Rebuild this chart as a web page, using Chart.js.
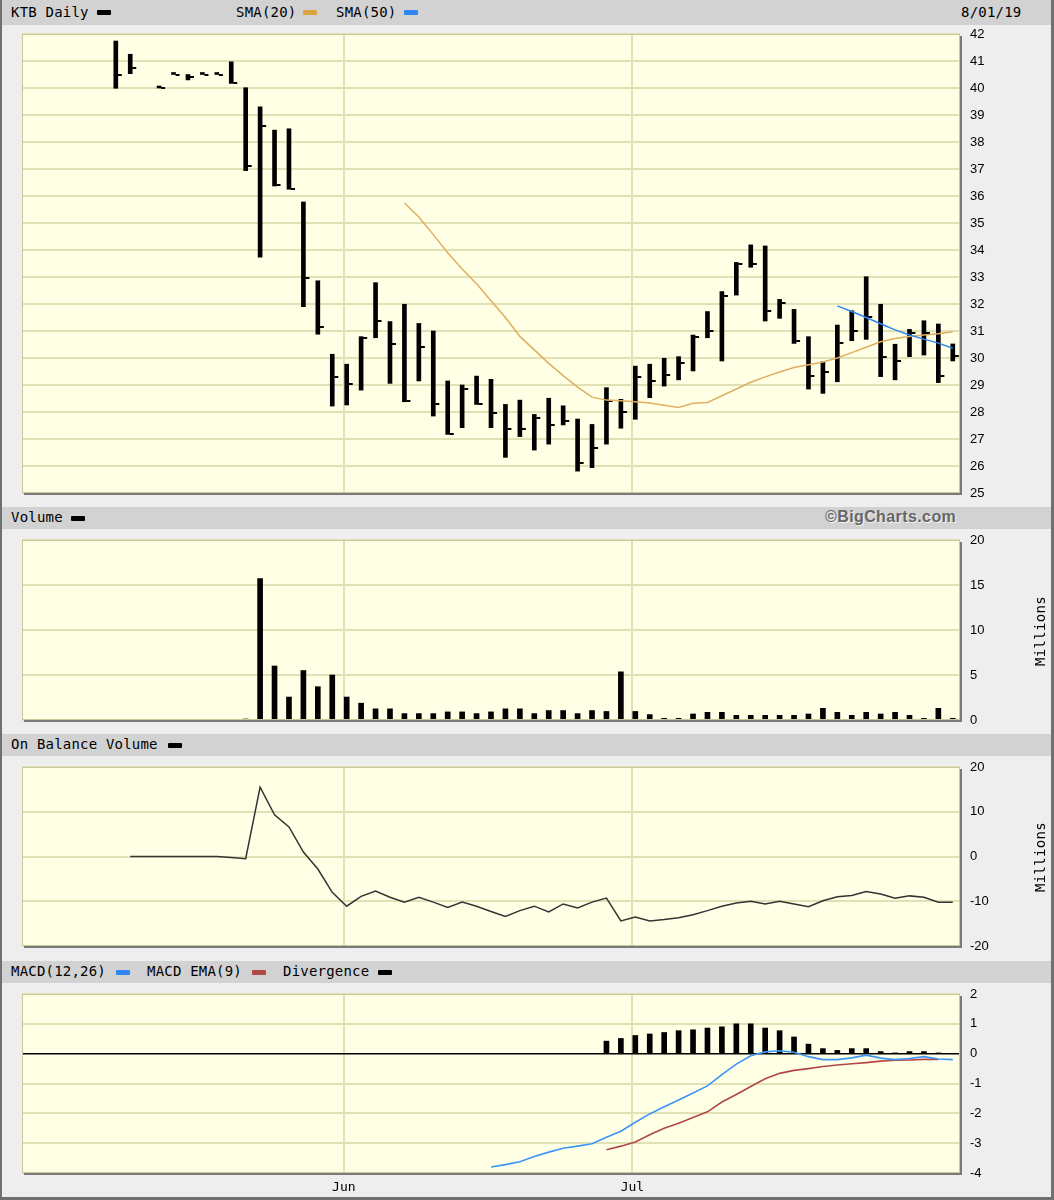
<!DOCTYPE html>
<html><head><meta charset="utf-8">
<script src="https://cdn.jsdelivr.net/npm/chart.js@4.4.1/dist/chart.umd.min.js"></script>
<style>
html,body{margin:0;padding:0;background:#fff}
#page{position:relative;width:1054px;height:1200px;background:#EEEEEE;overflow:hidden;font-family:'DejaVu Sans Mono',monospace}
canvas{position:absolute;left:0}
.hdr{position:absolute;left:2px;width:1050px;background:#D2D2D2;}
.t{position:absolute;font-size:14px;color:#000;white-space:nowrap;letter-spacing:0.2px}
.sw{position:absolute;width:14px;height:5px;border-radius:1px}
.mil{position:absolute;font-size:14px;color:#000;transform:translate(-50%,-50%) rotate(-90deg);white-space:nowrap;letter-spacing:0.3px}
#frame{position:absolute;left:0;top:0;width:1054px;height:1200px;box-sizing:border-box;border-left:2px solid #707070;border-right:3px solid #707070;border-bottom:3px solid #707070;pointer-events:none}
.copy{position:absolute;font-family:'Liberation Sans',Arial,sans-serif;font-weight:bold;font-size:16px;letter-spacing:0.4px;color:#666;text-shadow:1px 1px 0 #F4F4F4}
</style></head>
<body>
<div id="page">
  <canvas id="cPrice" width="1054" height="477" style="top:25px"></canvas>
  <canvas id="cVol" width="1054" height="198" style="top:531px"></canvas>
  <canvas id="cObv" width="1054" height="197" style="top:758px"></canvas>
  <canvas id="cMacd" width="1054" height="215" style="top:985px"></canvas>

  <div class="hdr" style="top:0;height:25px"></div>
  <div class="t" style="left:11px;top:4px">KTB Daily</div>
  <div class="sw" style="left:97px;top:10px;background:#000"></div>
  <div class="t" style="left:236px;top:4px">SMA(20)</div>
  <div class="sw" style="left:303px;top:10px;background:#DCA23E"></div>
  <div class="t" style="left:336px;top:4px">SMA(50)</div>
  <div class="sw" style="left:404px;top:10px;background:#2F86F0"></div>
  <div class="t" style="left:961px;top:4px">8/01/19</div>

  <div class="hdr" style="top:507px;height:22px"></div>
  <div class="t" style="left:11px;top:509px">Volume</div>
  <div class="sw" style="left:71px;top:516px;background:#000"></div>
  <div class="copy" style="left:825px;top:508px">©BigCharts.com</div>

  <div class="hdr" style="top:734px;height:22px"></div>
  <div class="t" style="left:11px;top:736px">On Balance Volume</div>
  <div class="sw" style="left:168px;top:743px;background:#000"></div>

  <div class="hdr" style="top:961px;height:22px"></div>
  <div class="t" style="left:11px;top:963px">MACD(12,26)</div>
  <div class="sw" style="left:116px;top:970px;background:#2F86F0"></div>
  <div class="t" style="left:147px;top:963px">MACD EMA(9)</div>
  <div class="sw" style="left:252px;top:970px;background:#B04848"></div>
  <div class="t" style="left:283px;top:963px">Divergence</div>
  <div class="sw" style="left:378px;top:970px;background:#000"></div>

  <div class="mil" style="left:1040px;top:631px">Millions</div>
  <div class="mil" style="left:1040px;top:857px">Millions</div>
  <div id="frame"></div>
</div>
<script>
// ---------- DATA ----------
const dates = [
 '2019-05-01','2019-05-02','2019-05-03','2019-05-06','2019-05-07','2019-05-08','2019-05-09','2019-05-10',
 '2019-05-13','2019-05-14','2019-05-15','2019-05-16','2019-05-17','2019-05-20','2019-05-21','2019-05-22',
 '2019-05-23','2019-05-24','2019-05-28','2019-05-29','2019-05-30','2019-05-31',
 '2019-06-03','2019-06-04','2019-06-05','2019-06-06','2019-06-07','2019-06-10','2019-06-11','2019-06-12',
 '2019-06-13','2019-06-14','2019-06-17','2019-06-18','2019-06-19','2019-06-20','2019-06-21','2019-06-24',
 '2019-06-25','2019-06-26','2019-06-27','2019-06-28',
 '2019-07-01','2019-07-02','2019-07-03','2019-07-05','2019-07-08','2019-07-09','2019-07-10','2019-07-11',
 '2019-07-12','2019-07-15','2019-07-16','2019-07-17','2019-07-18','2019-07-19','2019-07-22','2019-07-23',
 '2019-07-24','2019-07-25','2019-07-26','2019-07-29','2019-07-30','2019-07-31','2019-08-01'];

const monthLabels = ['Jun','Jul'];
const monthStartDates = ['2019-06-03','2019-07-01'];

const N6 = [null,null,null,null,null,null];
const high = N6.concat([41.74,41.25,null,40.0,40.5,40.5,40.5,40.5,40.97,40.01,39.3,38.44,38.49,35.78,32.86,30.14,
 29.77,30.79,32.79,31.35,31.99,31.28,31.0,29.15,29.0,29.33,29.21,28.28,28.44,27.91,28.51,28.23,27.74,27.54,28.9,28.47,
 29.7,29.77,29.99,30.05,30.85,31.72,32.46,33.54,34.19,34.15,32.17,31.8,30.79,29.86,31.22,31.75,33.01,31.99,30.51,31.06,31.38,31.26,30.52]);
const low = N6.concat([39.99,40.53,null,40.0,40.5,40.3,40.5,40.5,40.17,36.94,33.73,36.37,36.25,31.9,30.88,28.22,
 28.26,28.81,30.75,29.06,28.38,29.15,27.85,27.17,27.42,28.28,27.42,26.32,27.09,26.59,26.81,27.52,25.81,25.94,26.81,27.4,
 27.73,28.53,28.96,29.19,29.52,30.75,29.89,32.33,33.36,31.37,31.47,30.54,28.85,28.69,29.12,30.64,30.69,29.31,29.19,30.05,30.11,29.09,29.89]);
const close = N6.concat([40.48,40.75,null,40.0,40.5,40.4,40.5,40.5,40.2,37.11,38.58,36.4,36.27,32.95,31.16,29.31,
 29.04,30.75,31.38,30.52,28.4,30.4,28.28,27.2,28.85,28.3,27.97,27.36,27.37,27.77,27.52,27.68,26.12,26.68,28.42,28.01,
 29.31,29.15,29.37,29.83,30.79,31.01,32.3,33.47,33.48,31.75,32.05,30.63,29.33,29.49,30.57,31.01,31.53,30.03,29.9,30.91,30.94,29.33,30.07]);

const sma20 = Array(26).fill(null).concat([35.74,35.22,34.57,33.9,33.3,32.75,32.12,31.5,30.8,30.3,29.8,29.35,28.92,28.55,
 28.44,28.42,28.38,28.33,28.25,28.17,28.32,28.35,28.6,28.85,29.1,29.3,29.48,29.65,29.75,29.85,30.0,30.2,30.4,30.6,30.72,30.8,30.85,30.9,30.97]);
const sma50 = Array(56).fill(null).concat([31.93,31.72,31.5,31.27,31.04,30.85,30.7,30.55,30.36]);

// volume, millions
const volume = Array(15).fill(null).concat([0.1,15.7,6.0,2.55,5.5,3.7,5.0,2.55,1.87,1.24,1.24,0.71,0.71,0.71,0.9,0.9,0.71,0.9,
 1.24,1.24,0.71,1.05,1.05,0.71,1.05,0.95,5.35,0.95,0.6,0.19,0.19,0.67,0.85,0.85,0.52,0.52,0.52,0.52,0.52,0.67,1.3,0.85,0.52,0.85,0.67,0.85,0.52,0.19,1.3,0.19]);

// on balance volume, millions
const obv = Array(7).fill(null).concat([0,null,0,0,0,0,0,-0.2,-0.5,15.5,9.3,6.6,1.0,-2.8,-8.0,-11.1,-8.9,-7.7,-9.1,-10.2,-9.1,-10.2,
 -11.4,-10.2,-11.1,-12.3,-13.4,-12.1,-11.1,-12.4,-10.6,-11.5,-10.2,-9.3,-14.4,-13.5,-14.4,-14.1,-13.7,-13.0,-12.1,-11.1,-10.4,-10.0,
 -10.6,-10.0,-10.6,-11.2,-9.9,-9.0,-8.7,-7.8,-8.4,-9.3,-8.8,-9.1,-10.2,-10.2]);

const macd = Array(32).fill(null).concat([-3.8,-3.72,-3.62,-3.45,-3.3,-3.17,-3.1,-3.02,-2.8,-2.6,-2.3,-2.02,-1.78,-1.55,-1.32,-1.08,
 -0.7,-0.35,-0.07,0.06,0.1,0.05,-0.1,-0.2,-0.2,-0.14,-0.05,-0.15,-0.2,-0.16,-0.1,-0.18,-0.2]);
const macdSignal = Array(40).fill(null).concat([-3.22,-3.1,-2.96,-2.72,-2.5,-2.33,-2.14,-1.95,-1.62,-1.37,-1.1,-0.84,-0.66,-0.56,
 -0.5,-0.43,-0.38,-0.34,-0.3,-0.25,-0.22,-0.21,-0.19,-0.19,null]);
const divergence = Array(40).fill(null).concat([0.42,0.51,0.61,0.66,0.71,0.77,0.80,0.86,0.9,1.0,1.0,0.86,0.77,0.56,0.32,0.17,
 0.11,0.17,0.17,0.07,0.01,0.07,0.07,0.01,null]);

// ---------- STYLE ----------
const MONO = "'DejaVu Sans Mono', monospace";
const SANS = "'Liberation Sans', Arial, sans-serif";
const GRID = '#E1E1B6';
const PLOT_BG = '#FFFFE6';

const xy = arr => arr.map((v,i) => ({x:i, y:v}));
const monthTicks = monthStartDates.map(d => dates.indexOf(d) - 0.2);

const panelBg = {
  id:'panelBg',
  beforeDraw(chart){
    const {ctx, chartArea:a} = chart;
    ctx.save();
    ctx.fillStyle = PLOT_BG;
    ctx.fillRect(a.left, a.top, a.width, a.height);
    ctx.restore();
  },
  afterDraw(chart){
    const {ctx, chartArea:a} = chart;
    ctx.save();
    ctx.strokeStyle = '#C8C89A';
    ctx.lineWidth = 1;
    ctx.strokeRect(a.left+0.5, a.top+0.5, a.width-1, a.height-1);
    ctx.fillStyle = '#7A7A7A';
    ctx.fillRect(a.right, a.top+2, 2, a.height);
    ctx.fillRect(a.left+2, a.bottom, a.width, 2);
    ctx.restore();
  }
};

function xScale(showLabels){
  return {
    type:'linear', min:-0.5, max:dates.length-0.5, offset:false,
    afterBuildTicks: s => { s.ticks = monthTicks.map(v => ({value:v})); },
    ticks:{display:showLabels, autoSkip:false, maxRotation:0, padding:7, color:'#000',
      font:{family:MONO, size:13}, callback:(v,i) => monthLabels[i]},
    grid:{color:GRID, lineWidth:2, drawTicks:false, offset:false},
    border:{display:false},
    afterFit: s => { s.height = showLabels ? 27 : 0; s.paddingLeft = 0; s.paddingRight = 0; }
  };
}
function yScale(min, max, step, zeroLine){
  return {
    position:'right', min, max,
    ticks:{stepSize:step, color:'#000', font:{family:SANS, size:13}, padding:10},
    grid:{drawTicks:false,
      color: c => (zeroLine && c.tick && c.tick.value === 0) ? '#000' : GRID,
      lineWidth: c => (zeroLine && c.tick && c.tick.value === 0) ? 1.5 : 2},
    border:{display:false},
    afterFit: s => { s.width = 94; s.paddingTop = 0; s.paddingBottom = 0; }
  };
}
function baseOptions(x, y, padTop, padBottom){
  return {
    responsive:false, animation:false, devicePixelRatio:1, events:[],
    layout:{padding:{left:22, right:0, top:padTop, bottom:padBottom}},
    plugins:{legend:{display:false}, tooltip:{enabled:false}},
    scales:{x, y}
  };
}

// close tick marker (drawn to the right of each bar)
const tickImg = document.createElement('canvas');
tickImg.width = 14; tickImg.height = 2;
const tctx = tickImg.getContext('2d');
tctx.fillStyle = '#000';
tctx.fillRect(9, 0, 4, 2);

// ---------- PRICE ----------
new Chart(document.getElementById('cPrice'), {
  type:'bar',
  data:{datasets:[
    {type:'line', data:xy(sma20), borderColor:'#E0AE60', borderWidth:1.5, pointRadius:0, tension:0, order:1},
    {type:'line', data:xy(sma50), borderColor:'#2F86F0', borderWidth:1.5, pointRadius:0, tension:0, order:0},
    {type:'line', data:xy(close), showLine:false, pointStyle:tickImg, pointRadius:4, order:2},
    {type:'bar', data:high.map((h,i) => ({x:i, y: h==null ? null : [low[i], h]})),
      backgroundColor:'#000', borderWidth:0, barThickness:4, minBarLength:2, grouped:false, order:3}
  ]},
  options: baseOptions(xScale(false), yScale(25, 42, 1, false), 9, 9),
  plugins:[panelBg]
});

// ---------- VOLUME ----------
new Chart(document.getElementById('cVol'), {
  type:'bar',
  data:{datasets:[{data:xy(volume), backgroundColor:'#000', borderWidth:0, barThickness:5, grouped:false}]},
  options: baseOptions(xScale(false), yScale(0, 20, 5, false), 9, 9),
  plugins:[panelBg]
});

// ---------- OBV ----------
new Chart(document.getElementById('cObv'), {
  type:'line',
  data:{datasets:[{data:xy(obv), borderColor:'#333', borderWidth:1.5, pointRadius:0, tension:0, spanGaps:true}]},
  options: baseOptions(xScale(false), yScale(-20, 20, 10, false), 9, 9),
  plugins:[panelBg]
});

// ---------- MACD ----------
new Chart(document.getElementById('cMacd'), {
  type:'bar',
  data:{datasets:[
    {type:'line', data:xy(macd), borderColor:'#3D96F5', borderWidth:1.6, pointRadius:0, tension:0, order:0},
    {type:'line', data:xy(macdSignal), borderColor:'#B04848', borderWidth:1.6, pointRadius:0, tension:0, order:1},
    {type:'bar', data:xy(divergence), backgroundColor:'#000', borderWidth:0, barThickness:5, grouped:false, order:2}
  ]},
  options: baseOptions(xScale(true), yScale(-4, 2, 1, true), 9, 0),
  plugins:[panelBg]
});
</script>
</body></html>
